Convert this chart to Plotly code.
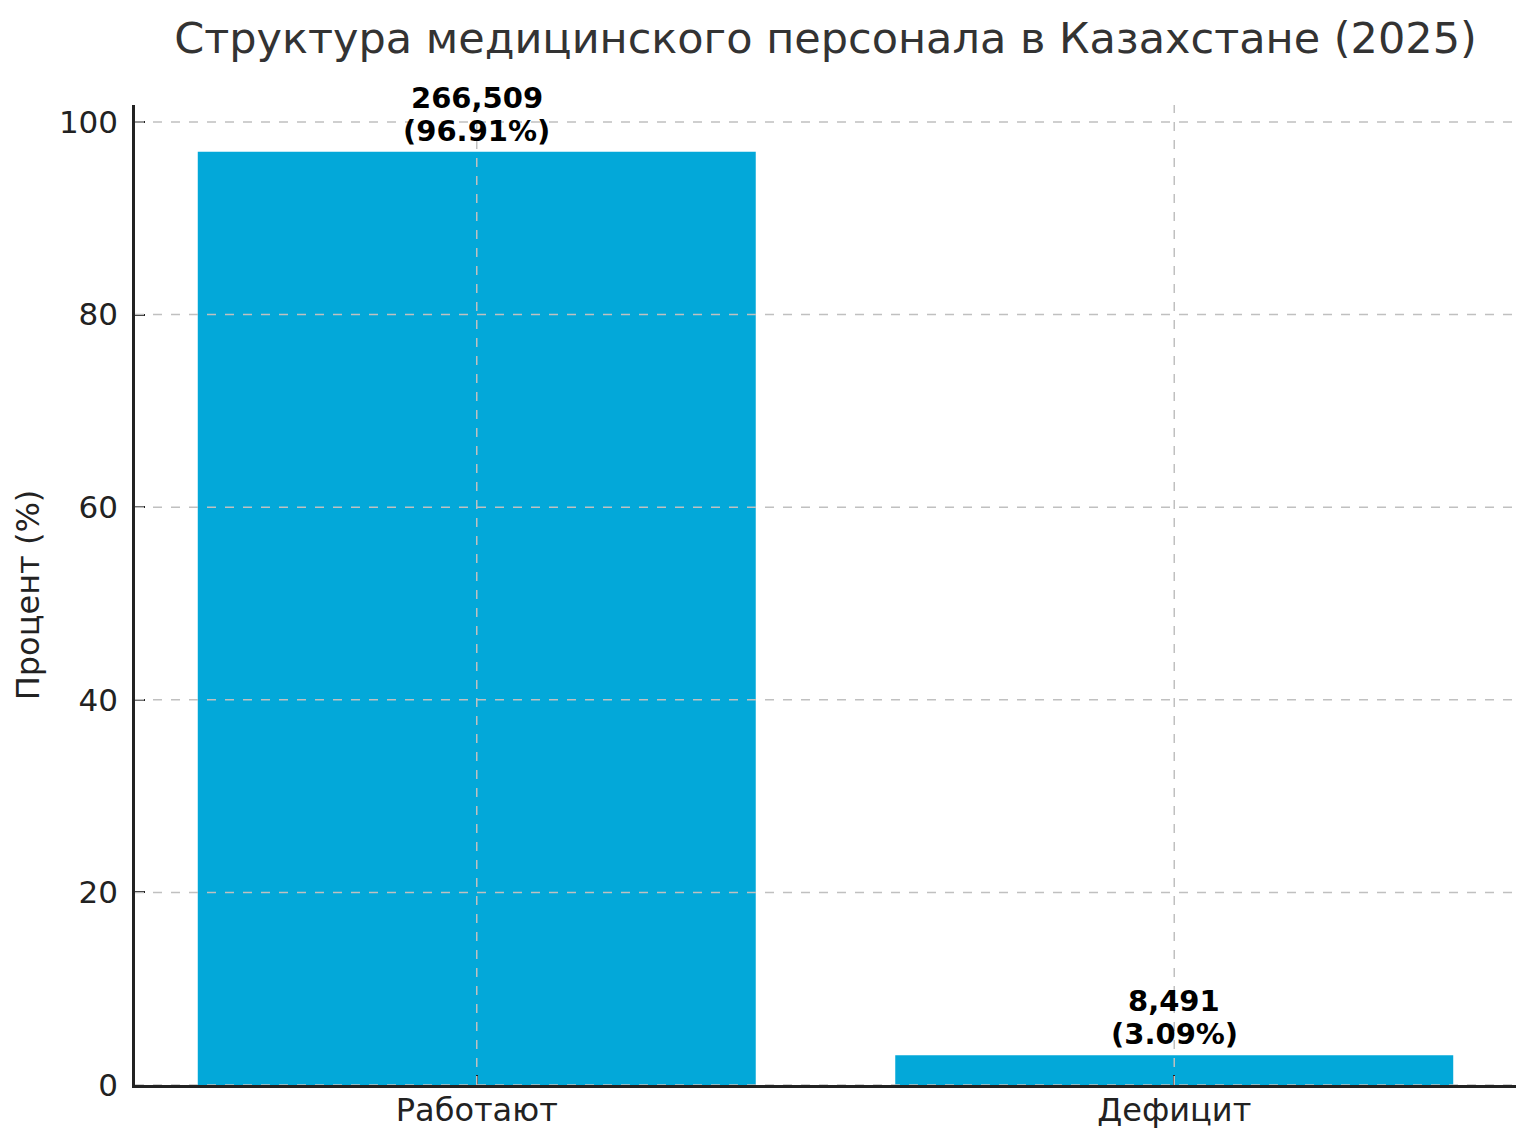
import plotly.graph_objects as go

categories = ["Работают", "Дефицит"]
counts = [266509, 8491]
percents = [96.91, 3.09]
y_ticks = [0, 20, 40, 60, 80, 100]

title_text = "Структура медицинского персонала в Казахстане (2025)"
y_title = "Процент (%)"

bar_color = "#03A8D9"
font_family = "DejaVu Sans"
grid_color = "#c0c0c0"

x_idx = list(range(len(categories)))

fig = go.Figure()
fig.add_trace(go.Bar(
    x=x_idx, y=percents, width=0.8,
    marker=dict(color=bar_color, line=dict(width=0)),
    showlegend=False, hoverinfo="skip",
))

annotations = []
for i, (c, p) in enumerate(zip(counts, percents)):
    annotations.append(dict(x=i, y=p, xref="x", yref="y", text=f"<b>{c:,}</b>",
                            showarrow=False, yanchor="bottom", yshift=35,
                            font=dict(family=font_family, size=29, color="black")))
    annotations.append(dict(x=i, y=p, xref="x", yref="y", text=f"<b>({p:.2f}%)</b>",
                            showarrow=False, yanchor="bottom", yshift=2,
                            font=dict(family=font_family, size=29, color="black")))

ymax = max(percents) * 1.05
span = len(categories) - 1 + 0.8
xlo, xhi = -0.4 - 0.05 * span, len(categories) - 1 + 0.4 + 0.05 * span

shapes = []
for t in y_ticks:
    shapes.append(dict(type="line", xref="paper", x0=0, x1=1, yref="y", y0=t, y1=t,
                       line=dict(color=grid_color, width=1.5, dash="dash"), layer="above"))
for i in x_idx:
    shapes.append(dict(type="line", xref="x", x0=i, x1=i, yref="paper", y0=0, y1=1,
                       line=dict(color=grid_color, width=1.5, dash="dash"), layer="above"))

fig.update_layout(
    width=1536, height=1146,
    margin=dict(l=127, r=28, t=97, b=69),
    paper_bgcolor="white", plot_bgcolor="white",
    font=dict(family=font_family, color="#222"),
    title=dict(text=title_text, x=(127 + (1536 - 28)) / 2 / 1536, xanchor="center",
               y=1 - 30 / 1146, yanchor="middle",
               font=dict(family=font_family, size=43, color="#333")),
    shapes=shapes,
    annotations=annotations,
)
fig.update_xaxes(
    range=[xlo, xhi], tickmode="array", tickvals=x_idx, ticktext=categories,
    showgrid=False, zeroline=False, showline=True, linecolor="#222", linewidth=2.5,
    ticks="inside", ticklen=10, tickwidth=2, tickcolor="#222",
    tickfont=dict(family=font_family, size=32, color="#222"),
    ticklabelstandoff=-5,
    layer="above traces",
)
fig.update_yaxes(
    range=[0, ymax], tickmode="array", tickvals=y_ticks,
    showgrid=False, zeroline=False, showline=True, linecolor="#222", linewidth=2.5,
    ticks="inside", ticklen=10, tickwidth=2, tickcolor="#222",
    tickfont=dict(family=font_family, size=31, color="#222"),
    ticklabelstandoff=8,
    title=dict(text=y_title, font=dict(family=font_family, size=32, color="#222"), standoff=10),
    layer="above traces",
)

fig.write_html("out.html")
